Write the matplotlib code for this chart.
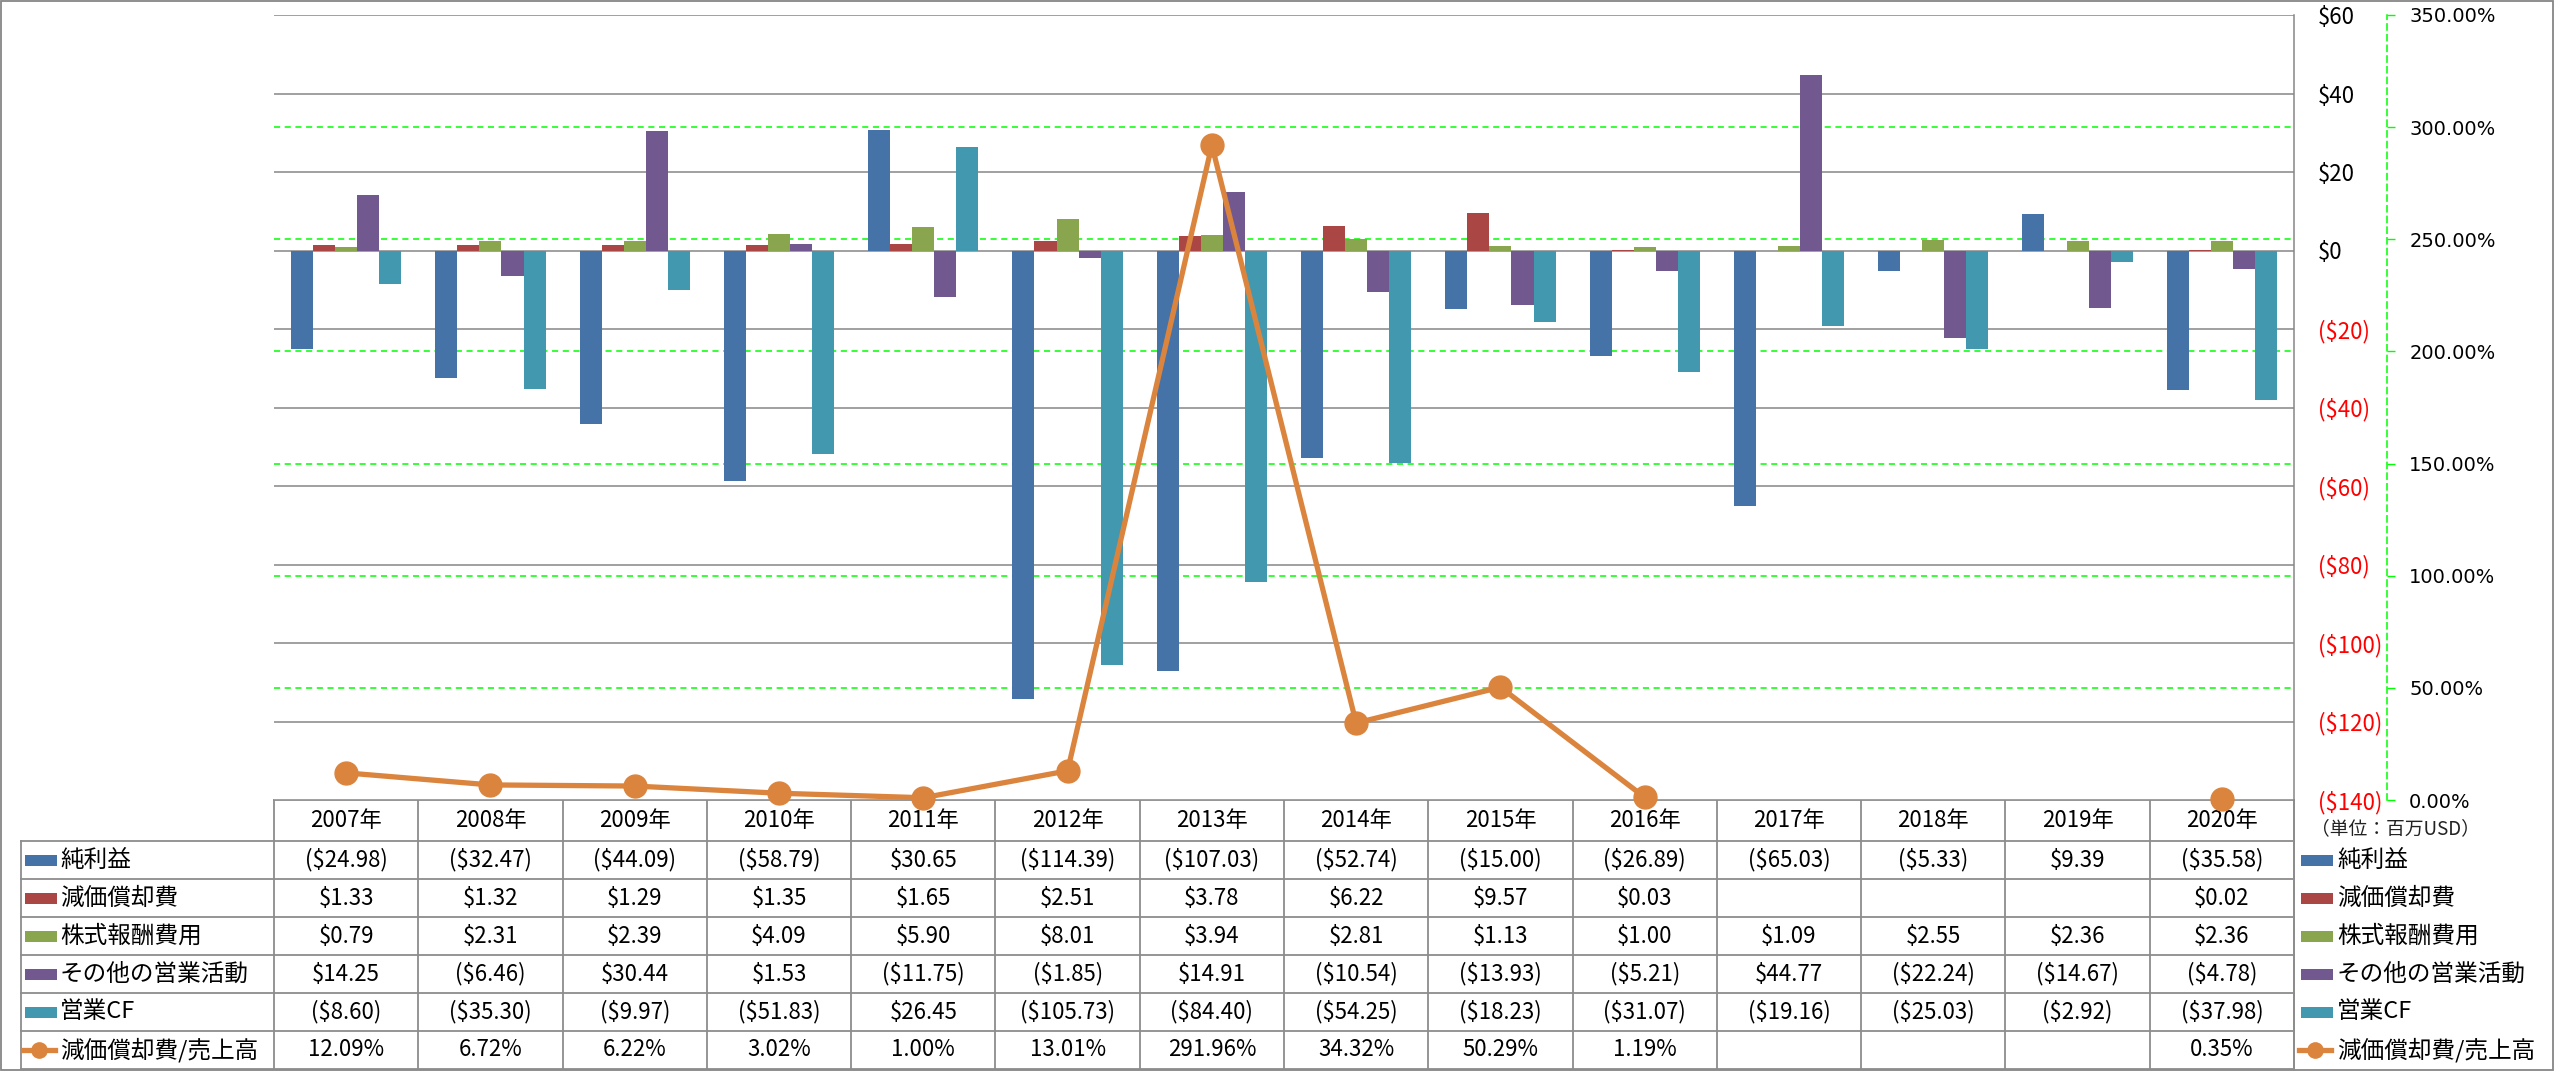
import numpy as np
import matplotlib
matplotlib.use('Agg')
import matplotlib.pyplot as plt
from matplotlib.transforms import blended_transform_factory
from matplotlib.patches import Rectangle
from matplotlib.lines import Line2D

plt.rcParams['font.family'] = ['Noto Sans CJK JP', 'DejaVu Sans']

# ---------------- data ----------------
years = ['2007年', '2008年', '2009年', '2010年', '2011年', '2012年', '2013年',
         '2014年', '2015年', '2016年', '2017年', '2018年', '2019年', '2020年']
nan = np.nan
net_income = [-24.98, -32.47, -44.09, -58.79, 30.65, -114.39, -107.03,
              -52.74, -15.00, -26.89, -65.03, -5.33, 9.39, -35.58]
depreciation = [1.33, 1.32, 1.29, 1.35, 1.65, 2.51, 3.78,
                6.22, 9.57, 0.03, nan, nan, nan, 0.02]
stock_comp = [0.79, 2.31, 2.39, 4.09, 5.90, 8.01, 3.94,
              2.81, 1.13, 1.00, 1.09, 2.55, 2.36, 2.36]
other_ops = [14.25, -6.46, 30.44, 1.53, -11.75, -1.85, 14.91,
             -10.54, -13.93, -5.21, 44.77, -22.24, -14.67, -4.78]
operating_cf = [-8.60, -35.30, -9.97, -51.83, 26.45, -105.73, -84.40,
                -54.25, -18.23, -31.07, -19.16, -25.03, -2.92, -37.98]
dep_to_sales = [12.09, 6.72, 6.22, 3.02, 1.00, 13.01, 291.96,
                34.32, 50.29, 1.19, nan, nan, nan, 0.35]

bar_names = ['純利益', '減価償却費', '株式報酬費用', 'その他の営業活動', '営業CF']
line_name = '減価償却費/売上高'
unit_label = '（単位：百万USD）'
y_ticks = [60, 40, 20, 0, -20, -40, -60, -80, -100, -120, -140]
y2_ticks = [0, 50, 100, 150, 200, 250, 300, 350]

bar_series = [net_income, depreciation, stock_comp, other_ops, operating_cf]
bar_colors = ['#4572A7', '#AA4643', '#89A54E', '#71588F', '#4198AF']
line_color = '#DB843D'
grid_gray = '#868686'
table_gray = '#8C8C8C'
green = '#00FF00'


def money(v):
    if v is None or (isinstance(v, float) and np.isnan(v)):
        return ''
    return f'(${abs(v):.2f})' if v < 0 else f'${v:.2f}'


def pct(v):
    if v is None or (isinstance(v, float) and np.isnan(v)):
        return ''
    return f'{v:.2f}%'


def tick_money(t):
    return f'(${abs(t):.0f})' if t < 0 else f'${t:.0f}'


# ---------------- layout ----------------
W, H = 2554, 1071
fig = plt.figure(figsize=(W / 100, H / 100), dpi=100)
fig.patch.set_facecolor('white')
L, R, T, B = 274, 2294, 15, 800

ax = fig.add_axes([L / W, 1 - B / H, (R - L) / W, (B - T) / H])
ax2 = ax.twinx()

n = len(years)
x = np.arange(n)
bw = 0.153

ax.set_xlim(-0.5, n - 0.5)
ax.set_ylim(-140, 60)
ax2.set_ylim(0, 350)

for k, (vals, c) in enumerate(zip(bar_series, bar_colors)):
    ax.bar(x + (k - 2) * bw, vals, bw, color=c, linewidth=0, zorder=3)

# primary axis gridlines + labels
ax.set_yticks(y_ticks, labels=[tick_money(t) for t in y_ticks])
ax.yaxis.grid(True, color=grid_gray, lw=1.1, zorder=0)
ax.set_axisbelow(True)
ax.yaxis.tick_right()
ax.tick_params(axis='y', length=0, pad=17, labelsize=16)
for lab, t in zip(ax.get_yticklabels(), y_ticks):
    lab.set_color('#FF0000' if t < 0 else 'black')
ax.set_xticks([])
for s in ['top', 'left', 'bottom']:
    ax.spines[s].set_visible(False)
ax.spines['right'].set_color(grid_gray)
ax.spines['right'].set_linewidth(1.1)

# secondary (percentage) gridlines drawn behind bars
gtr = blended_transform_factory(ax.transAxes, ax2.transData)
for t in y2_ticks[1:-1]:
    ax.add_line(Line2D([0, 1], [t, t], transform=gtr, color=green, lw=1.1,
                       ls=(0, (4, 3)), zorder=1))

ax2.set_yticks(y2_ticks, labels=[f'{t:.2f}%' for t in y2_ticks])
ax2.tick_params(axis='y', direction='out', length=6, width=1, color=green,
                pad=10, labelsize=14, labelfontfamily='DejaVu Sans')
for s in ['top', 'left', 'bottom']:
    ax2.spines[s].set_visible(False)
ax2.spines['right'].set_position(('axes', (2387 - L) / (R - L)))
ax2.spines['right'].set_color(green)
ax2.spines['right'].set_linestyle((0, (4, 3)))
ax2.spines['right'].set_linewidth(1.1)
ax2.set_xticks([])

ax2.plot(x, dep_to_sales, color=line_color, lw=3.8, marker='o', ms=16.5,
         zorder=5, clip_on=False)

# ---------------- data table ----------------
ov = fig.add_axes([0, 0, 1, 1])
ov.set_xlim(0, W)
ov.set_ylim(H, 0)
ov.axis('off')
ov.set_zorder(-1)
ov.patch.set_visible(False)

tr = blended_transform_factory(ax.transData, ov.transData)
hdr_top, hdr_bot, row_h = 800, 841, 38
nrows = 6
tab_bot = hdr_bot + row_h * nrows
leg_left = 21

lkw = dict(color=table_gray, lw=1.3)
# horizontal lines
ov.add_line(Line2D([L, R], [hdr_top, hdr_top], **lkw))
for r in range(nrows + 1):
    yy = hdr_bot + r * row_h
    ov.add_line(Line2D([leg_left, R], [yy, yy], **lkw))
# vertical lines
for i in range(n + 1):
    ov.add_line(Line2D([i - 0.5, i - 0.5], [hdr_top, tab_bot], transform=tr,
                       **lkw))
ov.add_line(Line2D([leg_left, leg_left], [hdr_bot, tab_bot], **lkw))

fs = 16
for i, yname in enumerate(years):
    ov.text(i, (hdr_top + hdr_bot) / 2, yname, transform=tr, ha='center',
            va='center', fontsize=fs)

rows_vals = [[money(v) for v in s] for s in bar_series] + \
            [[pct(v) for v in dep_to_sales]]
for r, vals in enumerate(rows_vals):
    yc = hdr_bot + r * row_h + row_h / 2
    for i, s in enumerate(vals):
        ov.text(i, yc, s, transform=tr, ha='center', va='center', fontsize=fs)


def legend_key(x0, yc, r):
    if r < 5:
        ov.add_patch(Rectangle((x0, yc - 5.5), 32, 11, color=bar_colors[r],
                               lw=0))
    else:
        ov.add_line(Line2D([x0 - 2, x0 + 30], [yc, yc], color=line_color,
                           lw=3.8))
        ov.plot([x0 + 14], [yc], marker='o', ms=11, color=line_color)


names = bar_names + [line_name]
for r, nm in enumerate(names):
    yc = hdr_bot + r * row_h + row_h / 2
    legend_key(25, yc, r)
    ov.text(60, yc, nm, ha='left', va='center', fontsize=17)
    legend_key(2301, yc, r)
    ov.text(2337, yc, nm, ha='left', va='center', fontsize=17)

ov.text(2311, 829, unit_label, ha='left', va='center', fontsize=13.5,
        color='#222222')

# right border line continuing below plot
ov.add_line(Line2D([R, R], [hdr_top, H], **lkw))
# outer frame
ov.add_patch(Rectangle((0.5, 0.5), W - 1.5, H - 1.5, fill=False,
                       edgecolor=grid_gray, lw=1.3))

fig.savefig('out.png', dpi=100, facecolor='white')
